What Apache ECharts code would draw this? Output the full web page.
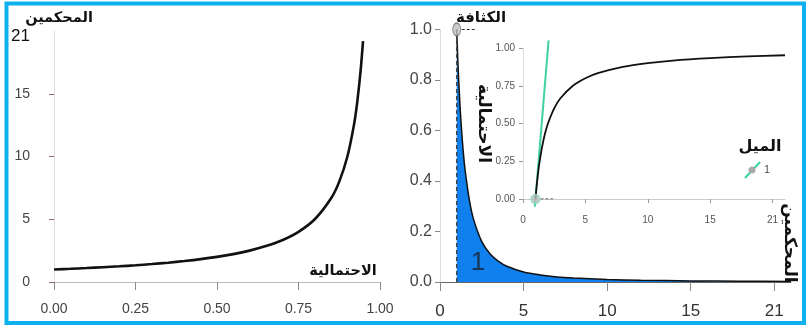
<!DOCTYPE html>
<html><head><meta charset="utf-8">
<script src="https://cdn.jsdelivr.net/npm/echarts@6/dist/echarts.min.js"></script>
<style>html,body{margin:0;padding:0;background:#fff}#c{width:807px;height:326px}</style>
</head><body><div id="c"></div>
<script>
// ---- data ----
// left panel: reviewers needed vs probability
const probX = [0, 0.05, 0.1, 0.15, 0.2, 0.25, 0.3, 0.35, 0.4, 0.45, 0.5, 0.55, 0.6, 0.65, 0.7, 0.75, 0.8, 0.85, 0.875, 0.9, 0.92, 0.93, 0.94, 0.948];
const reviewersY = [1.00, 1.05, 1.11, 1.18, 1.25, 1.33, 1.43, 1.54, 1.67, 1.82, 2.00, 2.22, 2.50, 2.86, 3.33, 4.00, 5.00, 6.67, 8.00, 10.0, 12.5, 14.3, 16.7, 19.2];
const leftYTicks = [0, 5, 10, 15, 20];
const leftYTickLabels = ['0', '5', '10', '15', '21'];
const leftXTicks = [0, 0.25, 0.5, 0.75, 1];
const leftXTickLabels = ['0.00', '0.25', '0.50', '0.75', '1.00'];

// right panel: density over reviewers
const densX = [1, 1.05, 1.1, 1.2, 1.3, 1.4, 1.5, 1.75, 2, 2.5, 3, 3.5, 4, 5, 6, 7, 8, 10, 12, 15, 18, 21];
const densY = [1.00, 0.907, 0.826, 0.694, 0.592, 0.510, 0.444, 0.327, 0.250, 0.160, 0.111, 0.082, 0.0625, 0.040, 0.028, 0.020, 0.0156, 0.010, 0.0069, 0.0044, 0.0031, 0.0023];
const rightXTicks = [0, 5, 10, 15, 20];
const rightXTickLabels = ['0', '5', '10', '15', '21'];
const rightYTicks = [0, 0.2, 0.4, 0.6, 0.8, 1.0];
const rightYTickLabels = ['0.0', '0.2', '0.4', '0.6', '0.8', '1.0'];

// inset: cumulative probability
const cdfX = [1, 1.05, 1.1, 1.2, 1.3, 1.5, 1.75, 2, 2.5, 3, 4, 5, 6, 8, 10, 12, 15, 18, 21];
const cdfY = [0, 0.048, 0.091, 0.167, 0.231, 0.333, 0.429, 0.500, 0.600, 0.667, 0.750, 0.800, 0.833, 0.875, 0.900, 0.917, 0.933, 0.944, 0.952];
const slopeX = [0.95, 2.05];
const slopeY = [-0.05, 1.05];
const insetXTicks = [0, 5, 10, 15, 20];
const insetXTickLabels = ['0', '5', '10', '15', '21'];
const insetYTicks = [0, 0.25, 0.5, 0.75, 1];
const insetYTickLabels = ['0.00', '0.25', '0.50', '0.75', '1.00'];

const pair = (xs, ys) => xs.map((x, i) => [x, ys[i]]);
const lab = (ticks, labels) => v => { const i = ticks.findIndex(t => Math.abs(t - v) < 1e-9); return i < 0 ? '' : labels[i]; };
const NUM = "'Liberation Sans Narrow','Liberation Sans',Arial,sans-serif";
const AR = "'DejaVu Sans',sans-serif";

const chart = echarts.init(document.getElementById('c'), null, {renderer: 'canvas'});
chart.setOption({
  animation: false,
  backgroundColor: '#fff',
  grid: [
    {left: 54, top: 31, width: 326, height: 251},
    {left: 440, top: 29.5, width: 351, height: 252.5},
    {left: 523, top: 48, width: 262, height: 151}
  ],
  xAxis: [
    {gridIndex: 0, type: 'value', min: 0, max: 1,
     axisLine: {lineStyle: {color: '#bbb'}}, splitLine: {show: false},
     axisTick: {customValues: leftXTicks, length: 8, lineStyle: {color: '#888'}},
     axisLabel: {customValues: leftXTicks, formatter: lab(leftXTicks, leftXTickLabels), margin: 20, fontSize: 14, color: '#444', fontFamily: NUM}},
    {gridIndex: 1, type: 'value', min: 0, max: 21,
     axisLine: {lineStyle: {color: '#666'}}, splitLine: {show: false},
     axisTick: {customValues: rightXTicks, length: 9, lineStyle: {color: '#888'}},
     axisLabel: {customValues: rightXTicks, formatter: lab(rightXTicks, rightXTickLabels), margin: 21, fontSize: 17, color: '#333', fontFamily: NUM}},
    {gridIndex: 2, type: 'value', min: 0, max: 21, offset: 7,
     axisLine: {lineStyle: {color: '#ccc'}}, splitLine: {show: false},
     axisTick: {customValues: insetXTicks, length: 4, lineStyle: {color: '#999'}},
     axisLabel: {customValues: insetXTicks, formatter: lab(insetXTicks, insetXTickLabels), margin: 9, fontSize: 10, color: '#555', fontFamily: NUM}}
  ],
  yAxis: [
    {gridIndex: 0, type: 'value', min: 0, max: 20, offset: 17,
     axisLine: {show: true, lineStyle: {color: '#ddd'}}, splitLine: {show: false},
     axisTick: {show: true, customValues: [0, 5, 10, 15], length: 5, lineStyle: {color: '#8a6a6a'}},
     axisLabel: {customValues: leftYTicks, margin: 7, fontSize: 14, color: '#444', fontFamily: NUM,
       formatter: v => { const s = lab(leftYTicks, leftYTickLabels)(v); return v === 20 ? '{b|' + s + '}' : s; },
       rich: {b: {fontSize: 17, color: '#111', fontFamily: "'Liberation Sans',sans-serif", padding: [10, 0, 0, 0]}}}},
    {gridIndex: 1, type: 'value', min: 0, max: 1,
     axisLine: {show: true, lineStyle: {color: '#ddd'}}, splitLine: {show: false},
     axisTick: {show: true, customValues: rightYTicks, length: 5, lineStyle: {color: '#888'}},
     axisLabel: {customValues: rightYTicks, formatter: lab(rightYTicks, rightYTickLabels), margin: 8, fontSize: 16, color: '#444', fontFamily: NUM}},
    {gridIndex: 2, type: 'value', min: 0, max: 1,
     axisLine: {show: true, lineStyle: {color: '#ddd'}}, splitLine: {show: false},
     axisTick: {show: true, customValues: insetYTicks, length: 4, lineStyle: {color: '#999'}},
     axisLabel: {customValues: insetYTicks, formatter: lab(insetYTicks, insetYTickLabels), margin: 8, fontSize: 10, color: '#555', fontFamily: NUM},
     name: 'الاحتمالية', nameLocation: 'middle', nameGap: 26, nameRotate: -90,
     nameTextStyle: {fontSize: 17, color: '#111', fontFamily: AR, fontWeight: 'bold'}}
  ],
  series: [
    {type: 'line', xAxisIndex: 0, yAxisIndex: 0, data: pair(probX, reviewersY), smooth: 0.3, showSymbol: false,
     lineStyle: {color: '#111', width: 2.6}},
    {type: 'line', xAxisIndex: 1, yAxisIndex: 1, data: pair(densX, densY), smooth: 0.3, showSymbol: false,
     lineStyle: {color: '#111', width: 1.5}, areaStyle: {color: '#0f80ee', opacity: 1}, z: 2},
    {type: 'line', xAxisIndex: 1, yAxisIndex: 1, data: [[1, 0], [1, 1]], showSymbol: false,
     lineStyle: {color: '#444', width: 1.5, type: [4, 3]}, z: 3},
    {type: 'line', xAxisIndex: 1, yAxisIndex: 1, data: [[1.3, 1], [2.2, 1]], showSymbol: false,
     lineStyle: {color: '#333', width: 1, type: [3, 2]}, z: 3},
    {type: 'scatter', xAxisIndex: 1, yAxisIndex: 1, data: [[1, 1]], symbol: 'circle', symbolSize: [8, 13],
     itemStyle: {color: '#bdbdbd', borderColor: '#666', borderWidth: 1}, z: 4},
    {type: 'line', xAxisIndex: 2, yAxisIndex: 2, data: pair(cdfX, cdfY), smooth: 0.3, showSymbol: false,
     lineStyle: {color: '#111', width: 1.8}, z: 3},
    {type: 'line', xAxisIndex: 2, yAxisIndex: 2, data: pair(slopeX, slopeY), showSymbol: false, clip: false,
     lineStyle: {color: '#3fd3a0', width: 2}, z: 2},
    {type: 'line', xAxisIndex: 2, yAxisIndex: 2, data: [[1.4, 0], [2.4, 0]], showSymbol: false,
     lineStyle: {color: '#333', width: 1, type: [3, 2]}, z: 3},
    {type: 'scatter', xAxisIndex: 2, yAxisIndex: 2, data: [[1, 0]], symbol: 'circle', symbolSize: 9,
     itemStyle: {color: '#bbbbbb', borderColor: '#8fe0c0', borderWidth: 1.5}, z: 4}
  ],
  graphic: [
    {type: 'rect', shape: {x: 6.5, y: 3.5, width: 797.5, height: 319.5}, style: {fill: 'none', stroke: '#0db1ee', lineWidth: 4}, z: 100},
    {type: 'text', x: 59, y: 18, style: {text: 'المحكمين', fontSize: 14.5, fontWeight: 'bold', fontFamily: AR, fill: '#111', textAlign: 'center', textVerticalAlign: 'middle'}},
    {type: 'text', x: 343, y: 271, style: {text: 'الاحتمالية', fontSize: 14.5, fontWeight: 'bold', fontFamily: AR, fill: '#111', textAlign: 'center', textVerticalAlign: 'middle'}},
    {type: 'text', x: 481, y: 18, style: {text: 'الكثافة', fontSize: 15, fontWeight: 'bold', fontFamily: AR, fill: '#111', textAlign: 'center', textVerticalAlign: 'middle'}},
    {type: 'text', x: 789, y: 243, rotation: -Math.PI / 2, style: {text: 'المحكمين', fontSize: 17, fontWeight: 'bold', fontFamily: AR, fill: '#111', textAlign: 'center', textVerticalAlign: 'middle'}},
    {type: 'text', x: 760, y: 147, style: {text: 'الميل', fontSize: 16, fontWeight: 'bold', fontFamily: AR, fill: '#111', textAlign: 'center', textVerticalAlign: 'middle'}},
    {type: 'line', shape: {x1: 745, y1: 178, x2: 760, y2: 162}, style: {stroke: '#3fd3a0', lineWidth: 2}},
    {type: 'circle', shape: {cx: 752, cy: 170, r: 3.5}, style: {fill: '#aaa'}},
    {type: 'text', x: 767, y: 170, style: {text: '1', fontSize: 10, fontFamily: NUM, fill: '#444', textAlign: 'center', textVerticalAlign: 'middle'}},
    {type: 'text', x: 478, y: 263, style: {text: '1', fontSize: 26, fontFamily: NUM, fill: '#1a3352', textAlign: 'center', textVerticalAlign: 'middle'}, z: 10}
  ]
});
</script></body></html>
